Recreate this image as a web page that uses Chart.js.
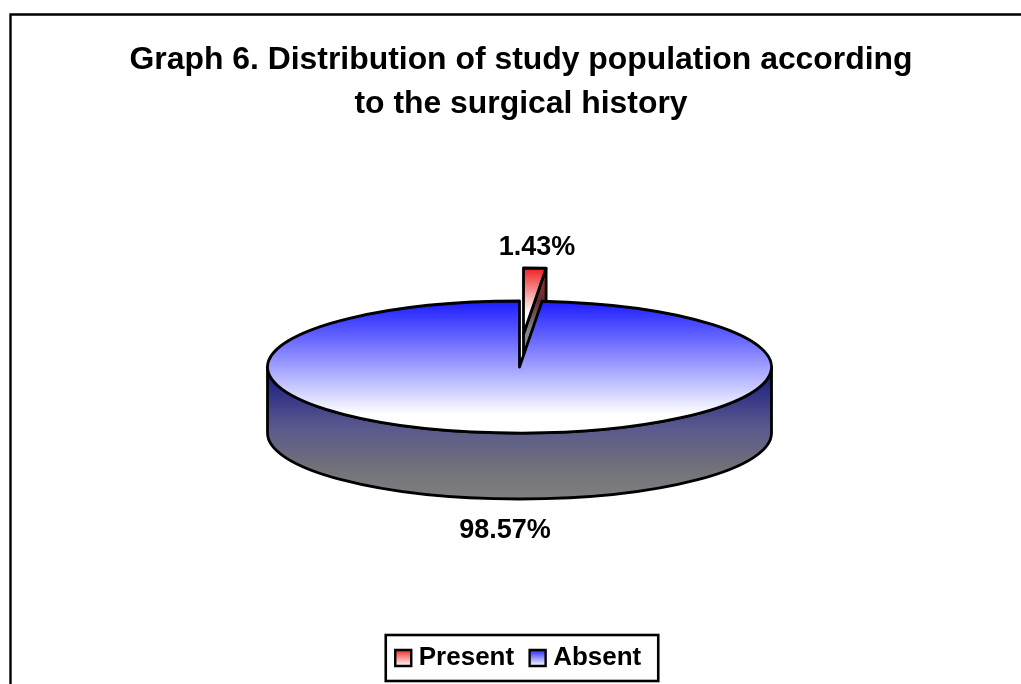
<!DOCTYPE html>
<html>
<head>
<meta charset="utf-8">
<style>html,body{margin:0;padding:0;background:#fff}canvas{display:block}</style>
<script src="https://cdn.jsdelivr.net/npm/chart.js@4"></script>
</head>
<body>
<canvas id="c" width="1021" height="684"></canvas>
<script>
const titleLines = ['Graph 6. Distribution of study population according', 'to the surgical history'];
const categories = ['Present', 'Absent'];
const values = [1.43, 98.57];

const FONT = '"Liberation Sans", Arial, sans-serif';
const RADIUS = 252, TILT = 0.262, DEPTH = 66, CENTER_Y = 367;
const EXPLODE = [4, -33];
const LABEL_POS = [[537, 248], [505, 531]];
const INK = '#000';
const LINE = 2.8;

function topGradient(ctx, cy, idx) {
  const g = ctx.createLinearGradient(0, cy - RADIUS, 0, cy + RADIUS);
  if (idx === 0) {
    g.addColorStop(0, '#ee2020'); g.addColorStop(0.34, '#ffffff'); g.addColorStop(1, '#ffffff');
  } else {
    g.addColorStop(0, '#1c1cff'); g.addColorStop(0.86, '#ffffff'); g.addColorStop(1, '#ffffff');
  }
  return g;
}
function legendGradient(ctx, idx) {
  const g = ctx.createLinearGradient(0, 649, 0, 666);
  g.addColorStop(0, idx === 0 ? '#f02020' : '#1c1cff');
  g.addColorStop(1, '#ffffff');
  return g;
}
function tiltPath(ctx, arc, cy, dx, dy) {
  ctx.save();
  ctx.translate(arc.x + dx, cy + dy);
  ctx.scale(1, TILT);
  ctx.beginPath();
  ctx.arc(0, 0, arc.outerRadius, arc.startAngle, arc.endAngle);
  ctx.lineTo(0, 0);
  ctx.closePath();
  ctx.restore();
}
function drawTop(ctx, arc, cy, dx, dy) {
  ctx.save();
  ctx.translate(arc.x + dx, cy + dy);
  ctx.scale(1, TILT);
  ctx.translate(-arc.x, -arc.y);
  arc.draw(ctx);
  ctx.restore();
  tiltPath(ctx, arc, cy, dx, dy);
  ctx.lineWidth = LINE; ctx.lineJoin = 'round'; ctx.strokeStyle = INK;
  ctx.stroke();
}

const pie3d = {
  id: 'pie3d',
  beforeDraw(chart) {
    const ctx = chart.ctx;
    ctx.save();
    ctx.fillStyle = '#fff';
    ctx.fillRect(0, 0, chart.width, chart.height);
    ctx.strokeStyle = INK; ctx.lineWidth = 2.4;
    ctx.beginPath();
    ctx.moveTo(10.5, chart.height + 5);
    ctx.lineTo(10.5, 14.5);
    ctx.lineTo(chart.width + 5, 14.5);
    ctx.stroke();
    ctx.restore();
  },
  beforeDatasetDraw(chart, args) {
    const ctx = chart.ctx;
    const arcs = chart.getDatasetMeta(args.index).data;
    const [present, absent] = arcs;
    const cy = CENTER_Y, cx = 519.5, R = absent.outerRadius;
    absent.x = cx; present.x = cx;
    ctx.save();
    // cut face of the pulled-out slice
    const tx = cx + EXPLODE[0], ty = cy + EXPLODE[1];
    const ex = tx + R * Math.cos(present.endAngle), ey = ty + R * TILT * Math.sin(present.endAngle);
    const wg = ctx.createLinearGradient(0, ey, 0, ey + DEPTH + 66);
    wg.addColorStop(0, '#c03030'); wg.addColorStop(0.25, '#5a2c2c'); wg.addColorStop(0.45, '#808080'); wg.addColorStop(1, '#b8b8b8');
    ctx.beginPath();
    ctx.moveTo(tx, ty); ctx.lineTo(ex, ey); ctx.lineTo(ex, ey + DEPTH); ctx.lineTo(tx, ty + DEPTH); ctx.closePath();
    ctx.fillStyle = wg; ctx.fill();
    ctx.lineWidth = LINE; ctx.strokeStyle = INK; ctx.lineJoin = 'round'; ctx.stroke();
    drawTop(ctx, present, cy, EXPLODE[0], EXPLODE[1]);
    // side wall of the main body
    const g = ctx.createLinearGradient(0, cy, 0, cy + R * TILT + DEPTH);
    g.addColorStop(0, '#14147f'); g.addColorStop(0.45, '#58588e'); g.addColorStop(0.75, '#70707a'); g.addColorStop(1, '#808080');
    ctx.beginPath();
    ctx.moveTo(cx + R, cy);
    ctx.ellipse(cx, cy, R, R * TILT, 0, 0, Math.PI);
    ctx.lineTo(cx - R, cy + DEPTH);
    ctx.ellipse(cx, cy + DEPTH, R, R * TILT, 0, Math.PI, 0, true);
    ctx.closePath();
    ctx.fillStyle = g; ctx.fill();
    ctx.lineWidth = LINE; ctx.strokeStyle = INK; ctx.stroke();
    drawTop(ctx, absent, cy, 0, 0);
    // value labels
    ctx.fillStyle = INK;
    ctx.font = 'bold 27px ' + FONT;
    ctx.textAlign = 'center'; ctx.textBaseline = 'middle';
    values.forEach((v, i) => ctx.fillText(v.toFixed(2) + '%', LABEL_POS[i][0], LABEL_POS[i][1]));
    ctx.restore();
    return false;
  },
  afterDraw(chart) {
    const hb = chart.legend.legendHitBoxes;
    const ctx = chart.ctx;
    const l = hb[0].left - 15, r = hb[1].left + hb[1].width + 17;
    const t = hb[0].top - 10, b = hb[0].top + hb[0].height + 10;
    ctx.save();
    ctx.strokeStyle = INK; ctx.lineWidth = 2.6;
    ctx.strokeRect(l, t, r - l, b - t);
    ctx.restore();
  }
};

new Chart(document.getElementById('c'), {
  type: 'pie',
  data: {
    labels: categories,
    datasets: [{
      data: values,
      radius: RADIUS,
      borderWidth: 0,
      backgroundColor: c => {
        const a = c.chart.chartArea;
        return topGradient(c.chart.ctx, a ? (a.top + a.bottom) / 2 : 0, c.dataIndex);
      }
    }]
  },
  options: {
    responsive: false,
    animation: false,
    events: [],
    layout: { padding: { left: 21, right: 0, top: 0, bottom: 3 } },
    plugins: {
      tooltip: { enabled: false },
      title: {
        display: true,
        text: titleLines,
        color: INK,
        font: { family: FONT, size: 31.9, weight: 'bold', lineHeight: 1.375 },
        padding: { top: 38, bottom: 10 }
      },
      legend: {
        position: 'bottom',
        labels: {
          color: INK,
          font: { family: FONT, size: 26, weight: 'bold', lineHeight: 1 },
          usePointStyle: true,
          boxWidth: 5,
          boxHeight: 16,
          padding: 21,
          generateLabels: chart => categories.map((name, i) => ({
            text: name,
            index: i,
            fillStyle: legendGradient(chart.ctx, i),
            strokeStyle: INK,
            lineWidth: 2.4,
            pointStyle: 'rect',
            fontColor: INK,
            hidden: false
          }))
        }
      }
    }
  },
  plugins: [pie3d]
});
</script>
</body>
</html>
